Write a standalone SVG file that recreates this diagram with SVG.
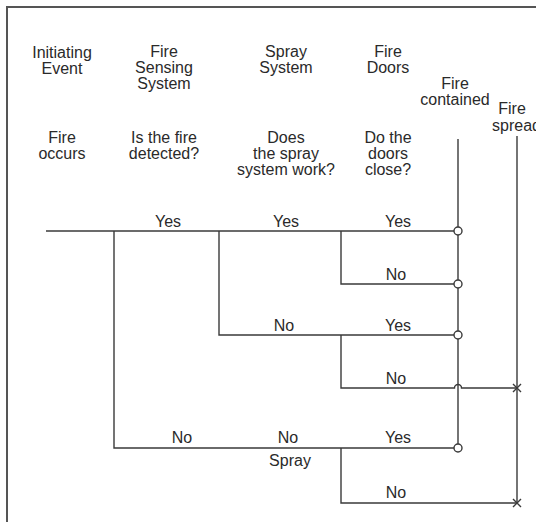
<svg xmlns="http://www.w3.org/2000/svg" width="536" height="522" viewBox="0 0 536 522">
<style>
  text { font-family: "Liberation Sans", Arial, sans-serif; font-size: 16px; fill: #2a2a2a; text-anchor: middle; }
  .ln { fill: none; stroke: #3a3a3a; stroke-width: 1.4; }
  .frame { fill: none; stroke: #555; stroke-width: 2; }
  .end { fill: #fff; stroke: #3a3a3a; stroke-width: 1.4; }
</style>
<rect width="536" height="522" fill="#fff"/>
<path class="frame" d="M7,530 V7 H540"/>

<g id="col-initiating">
  <text x="62" y="58">Initiating</text>
  <text x="62" y="74">Event</text>
  <text x="62" y="143">Fire</text>
  <text x="62" y="159">occurs</text>
</g>
<g id="col-sensing">
  <text x="164" y="57">Fire</text>
  <text x="164" y="73">Sensing</text>
  <text x="164" y="89">System</text>
  <text x="164" y="143">Is the fire</text>
  <text x="164" y="159">detected?</text>
</g>
<g id="col-spray">
  <text x="286" y="57">Spray</text>
  <text x="286" y="73">System</text>
  <text x="286" y="143">Does</text>
  <text x="286" y="159">the spray</text>
  <text x="286" y="175">system work?</text>
</g>
<g id="col-doors">
  <text x="388" y="57">Fire</text>
  <text x="388" y="73">Doors</text>
  <text x="388" y="143">Do the</text>
  <text x="388" y="159">doors</text>
  <text x="388" y="175">close?</text>
</g>
<g id="outcome-contained">
  <text x="455" y="89">Fire</text>
  <text x="455" y="105">contained</text>
</g>
<g id="outcome-spread">
  <text x="512" y="114">Fire</text>
  <text x="492" y="131" style="text-anchor:start">spread</text>
</g>

<g id="connectors">
  <path class="ln" d="M458,139 V448"/>
  <path class="ln" d="M517,136 V503"/>
  <path class="ln" d="M46,231 H458"/>
  <path class="ln" d="M114,231 V448 H458"/>
  <path class="ln" d="M219,231 V335 H458"/>
  <path class="ln" d="M341,231 V284 H458"/>
  <path class="ln" d="M341,335 V388 H454.5 A3.5,3.5 0 0 1 461.5,388 H517"/>
  <path class="ln" d="M341,448 V503 H517"/>
</g>

<g id="branch-labels">
  <text x="168" y="227">Yes</text>
  <text x="286" y="227">Yes</text>
  <text x="398" y="227">Yes</text>
  <text x="396" y="280">No</text>
  <text x="284" y="331">No</text>
  <text x="398" y="331">Yes</text>
  <text x="396" y="384">No</text>
  <text x="182" y="443">No</text>
  <text x="288" y="443">No</text>
  <text x="398" y="443">Yes</text>
  <text x="290" y="466">Spray</text>
  <text x="396" y="498">No</text>
</g>

<g id="end-contained">
  <circle class="end" cx="458" cy="231" r="4"/>
  <circle class="end" cx="458" cy="284" r="4"/>
  <circle class="end" cx="458" cy="335" r="4"/>
  <circle class="end" cx="458" cy="448" r="4"/>
</g>
<g id="end-spread">
  <path class="ln" d="M513,384 L521,392 M513,392 L521,384"/>
  <path class="ln" d="M513,499 L521,507 M513,507 L521,499"/>
</g>
</svg>
